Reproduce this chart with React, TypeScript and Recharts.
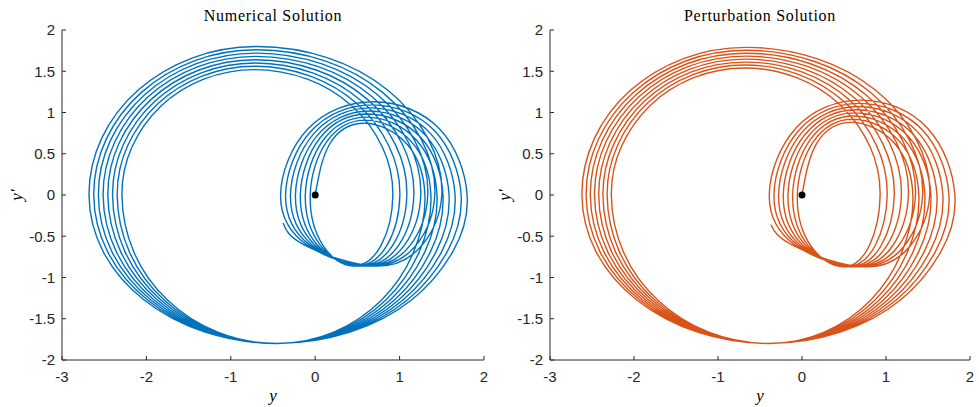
import { LineChart, Line, XAxis, YAxis, ReferenceDot } from 'recharts';

// axis ticks
const xTicks = [-3, -2, -1, 0, 1, 2];
const yTicks = [-2, -1.5, -1, -0.5, 0, 0.5, 1, 1.5, 2];

const numY = [
  0, 0.17, 0.58, 1.089, 1.3, 1.167, 0.787, 0.22, -0.45, -1.155, -1.751, -2.15, -2.29, -2.171, -1.83, -1.321, -0.72, -0.092, 0.439, 0.795, 0.92, 0.782, 0.45, 0.09,
  -0.059, 0.133, 0.596, 1.144, 1.371, 1.233, 0.837, 0.247, -0.45, -1.176, -1.79, -2.202, -2.346, -2.222, -1.868, -1.34, -0.716, -0.058, 0.499, 0.872, 1.003, 0.852, 0.486, 0.06,
  -0.117, 0.096, 0.611, 1.199, 1.443, 1.299, 0.888, 0.275, -0.45, -1.197, -1.829, -2.253, -2.401, -2.273, -1.906, -1.358, -0.711, -0.023, 0.559, 0.949, 1.086, 0.92, 0.521, 0.028,
  -0.176, 0.059, 0.627, 1.254, 1.514, 1.365, 0.939, 0.302, -0.45, -1.219, -1.869, -2.304, -2.457, -2.324, -1.944, -1.377, -0.707, 0.012, 0.619, 1.026, 1.169, 0.99, 0.557, -0.002,
  -0.234, 0.023, 0.643, 1.31, 1.586, 1.431, 0.989, 0.33, -0.45, -1.24, -1.909, -2.356, -2.513, -2.375, -1.983, -1.396, -0.703, 0.045, 0.678, 1.102, 1.251, 1.058, 0.593, -0.033,
  -0.293, -0.014, 0.659, 1.365, 1.657, 1.497, 1.04, 0.357, -0.45, -1.262, -1.948, -2.408, -2.569, -2.427, -2.021, -1.415, -0.699, 0.08, 0.738, 1.179, 1.334, 1.127, 0.629, -0.064,
  -0.351, -0.051, 0.674, 1.42, 1.729, 1.563, 1.091, 0.385, -0.45, -1.283, -1.987, -2.459, -2.624, -2.477, -2.059, -1.433, -0.694, 0.115, 0.798, 1.257, 1.417, 1.196, 0.664, -0.095,
  -0.41, -0.088, 0.69, 1.475, 1.8, 1.629, 1.141, 0.412, -0.45, -1.304, -2.027, -2.511, -2.68, -2.529, -2.097, -1.452, -0.69, 0.149, 0.858, 1.334, 1.5, 1.266, 0.7, -0.126,
  -0.38,
];
const numDY = [
  0, 0.615, 0.87, 0.615, 0, -0.689, -1.273, -1.663, -1.8, -1.663, -1.273, -0.689, 0, 0.582, 1.075, 1.404, 1.52, 1.404, 1.075, 0.582, 0, -0.608, -0.86, -0.608,
  0, 0.641, 0.907, 0.641, 0, -0.689, -1.273, -1.663, -1.8, -1.663, -1.273, -0.689, 0, 0.597, 1.103, 1.441, 1.56, 1.441, 1.103, 0.597, 0, -0.608, -0.86, -0.608,
  0, 0.667, 0.944, 0.667, 0, -0.689, -1.273, -1.663, -1.8, -1.663, -1.273, -0.689, 0, 0.613, 1.131, 1.478, 1.6, 1.478, 1.131, 0.613, 0, -0.608, -0.86, -0.608,
  0, 0.694, 0.981, 0.694, 0, -0.689, -1.273, -1.663, -1.8, -1.663, -1.273, -0.689, 0, 0.628, 1.159, 1.515, 1.64, 1.515, 1.159, 0.628, 0, -0.608, -0.86, -0.608,
  0, 0.72, 1.019, 0.72, 0, -0.689, -1.273, -1.663, -1.8, -1.663, -1.273, -0.689, 0, 0.643, 1.188, 1.552, 1.68, 1.552, 1.188, 0.643, 0, -0.608, -0.86, -0.608,
  0, 0.747, 1.056, 0.747, 0, -0.689, -1.273, -1.663, -1.8, -1.663, -1.273, -0.689, 0, 0.659, 1.216, 1.589, 1.72, 1.589, 1.216, 0.659, 0, -0.608, -0.86, -0.608,
  0, 0.773, 1.093, 0.773, 0, -0.689, -1.273, -1.663, -1.8, -1.663, -1.273, -0.689, 0, 0.674, 1.244, 1.626, 1.76, 1.626, 1.244, 0.674, 0, -0.608, -0.86, -0.608,
  0, 0.799, 1.13, 0.799, 0, -0.689, -1.273, -1.663, -1.8, -1.663, -1.273, -0.689, 0, 0.689, 1.273, 1.663, 1.8, 1.663, 1.273, 0.689, 0, -0.608, -0.86, -0.608,
  -0.34,
];

// perturbation solution
const pertY = [
  0, 0.173, 0.59, 1.106, 1.32, 1.19, 0.819, 0.265, -0.39, -1.11, -1.719, -2.127, -2.27, -2.149, -1.804, -1.289, -0.68, -0.063, 0.458, 0.808, 0.93, 0.801, 0.49, 0.104,
  -0.056, 0.138, 0.606, 1.161, 1.391, 1.256, 0.869, 0.292, -0.39, -1.129, -1.755, -2.173, -2.32, -2.195, -1.839, -1.306, -0.677, -0.029, 0.519, 0.885, 1.014, 0.87, 0.524, 0.075,
  -0.111, 0.103, 0.621, 1.216, 1.463, 1.322, 0.92, 0.32, -0.39, -1.148, -1.79, -2.22, -2.37, -2.241, -1.873, -1.324, -0.674, 0.005, 0.58, 0.964, 1.099, 0.941, 0.559, 0.046,
  -0.167, 0.069, 0.637, 1.271, 1.534, 1.388, 0.97, 0.347, -0.39, -1.167, -1.825, -2.266, -2.42, -2.287, -1.908, -1.341, -0.671, 0.039, 0.64, 1.042, 1.183, 1.01, 0.593, 0.016,
  -0.223, 0.034, 0.653, 1.327, 1.606, 1.454, 1.021, 0.374, -0.39, -1.187, -1.861, -2.312, -2.47, -2.333, -1.942, -1.359, -0.669, 0.072, 0.7, 1.12, 1.267, 1.079, 0.627, -0.014,
  -0.279, -0.001, 0.669, 1.382, 1.677, 1.52, 1.071, 0.402, -0.39, -1.206, -1.896, -2.358, -2.52, -2.379, -1.977, -1.376, -0.666, 0.107, 0.76, 1.198, 1.351, 1.149, 0.661, -0.042,
  -0.334, -0.036, 0.684, 1.437, 1.749, 1.586, 1.122, 0.429, -0.39, -1.225, -1.931, -2.404, -2.57, -2.425, -2.011, -1.393, -0.663, 0.141, 0.821, 1.276, 1.436, 1.219, 0.696, -0.072,
  -0.39, -0.071, 0.7, 1.492, 1.82, 1.652, 1.172, 0.456, -0.39, -1.244, -1.967, -2.451, -2.62, -2.471, -2.046, -1.411, -0.66, 0.175, 0.881, 1.354, 1.52, 1.289, 0.73, -0.101,
  -0.37,
];
const pertDY = [
  0, 0.622, 0.88, 0.622, 0, -0.689, -1.273, -1.663, -1.8, -1.663, -1.273, -0.689, 0, 0.59, 1.089, 1.423, 1.54, 1.423, 1.089, 0.59, 0, -0.615, -0.87, -0.615,
  0, 0.65, 0.919, 0.65, 0, -0.689, -1.273, -1.663, -1.8, -1.663, -1.273, -0.689, 0, 0.604, 1.114, 1.456, 1.576, 1.456, 1.114, 0.604, 0, -0.615, -0.87, -0.615,
  0, 0.677, 0.957, 0.677, 0, -0.689, -1.273, -1.663, -1.8, -1.663, -1.273, -0.689, 0, 0.617, 1.139, 1.489, 1.611, 1.489, 1.139, 0.617, 0, -0.615, -0.87, -0.615,
  0, 0.704, 0.996, 0.704, 0, -0.689, -1.273, -1.663, -1.8, -1.663, -1.273, -0.689, 0, 0.631, 1.164, 1.522, 1.647, 1.522, 1.164, 0.631, 0, -0.615, -0.87, -0.615,
  0, 0.731, 1.034, 0.731, 0, -0.689, -1.273, -1.663, -1.8, -1.663, -1.273, -0.689, 0, 0.645, 1.19, 1.555, 1.683, 1.555, 1.19, 0.645, 0, -0.615, -0.87, -0.615,
  0, 0.759, 1.073, 0.759, 0, -0.689, -1.273, -1.663, -1.8, -1.663, -1.273, -0.689, 0, 0.658, 1.215, 1.588, 1.719, 1.588, 1.215, 0.658, 0, -0.615, -0.87, -0.615,
  0, 0.785, 1.111, 0.785, 0, -0.689, -1.273, -1.663, -1.8, -1.663, -1.273, -0.689, 0, 0.672, 1.24, 1.621, 1.754, 1.621, 1.24, 0.672, 0, -0.615, -0.87, -0.615,
  0, 0.813, 1.15, 0.813, 0, -0.689, -1.273, -1.663, -1.8, -1.663, -1.273, -0.689, 0, 0.686, 1.266, 1.654, 1.79, 1.654, 1.266, 0.686, 0, -0.615, -0.87, -0.615,
  -0.36,
];

// initial condition
const start = { y: 0, dy: 0 };

const axisColor = '#262626';
const tickFont = { fill: axisColor, fontSize: 15, fontFamily: '"Liberation Sans", Arial, sans-serif' };
const serif = '"Liberation Serif", "Times New Roman", serif';

const toRows = (ys: number[], dys: number[]) => ys.map((v, i) => ({ y: v, dy: dys[i] }));

interface PhasePlotProps {
  title: string;
  ys: number[];
  dys: number[];
  color: string;
  left: number;
  width: number;
  right: number;
}

function PhasePlot({ title, ys, dys, color, left, width, right }: PhasePlotProps) {
  const plotW = width - 62 - right;
  const cx = left + 62 + plotW / 2;
  return (
    <>
      <div style={{ position: 'absolute', left, top: 0 }}>
        <LineChart
          width={width}
          height={407}
          data={toRows(ys, dys)}
          margin={{ top: 30, right, bottom: 0, left: 0 }}
        >
          <XAxis
            type="number"
            dataKey="y"
            domain={[-3, 2]}
            ticks={xTicks}
            interval={0}
            allowDataOverflow
            height={47}
            tickSize={-4}
            tickMargin={15}
            axisLine={{ stroke: axisColor }}
            tickLine={{ stroke: axisColor }}
            tick={tickFont}
          />
          <YAxis
            type="number"
            dataKey="dy"
            domain={[-2, 2]}
            ticks={yTicks}
            interval={0}
            allowDataOverflow
            width={62}
            tickSize={-4}
            tickMargin={11}
            axisLine={{ stroke: axisColor }}
            tickLine={{ stroke: axisColor }}
            tick={tickFont}
          />
          <Line
            type="natural"
            dataKey="dy"
            stroke={color}
            strokeWidth={1.4}
            dot={false}
            activeDot={false}
            isAnimationActive={false}
          />
          <ReferenceDot x={start.y} y={start.dy} r={3.5} fill="#000" stroke="none" />
        </LineChart>
      </div>
      <div
        style={{
          position: 'absolute',
          left: cx,
          top: 16,
          transform: 'translate(-50%, -50%)',
          fontFamily: serif,
          fontSize: 16,
          letterSpacing: 0.7,
          color: '#000',
          whiteSpace: 'nowrap',
          lineHeight: 1,
        }}
      >
        {title}
      </div>
      <div
        style={{
          position: 'absolute',
          left: cx,
          top: 395,
          transform: 'translate(-50%, -50%)',
          fontFamily: serif,
          fontStyle: 'italic',
          fontSize: 17,
          color: '#000',
          lineHeight: 1,
        }}
      >
        y
      </div>
      <div
        style={{
          position: 'absolute',
          left: left + 16,
          top: 195,
          transform: 'translate(-50%, -50%) rotate(-90deg)',
          fontFamily: serif,
          fontStyle: 'italic',
          fontSize: 17,
          color: '#000',
          lineHeight: 1,
          whiteSpace: 'nowrap',
        }}
      >
        y′
      </div>
    </>
  );
}

export default function App() {
  return (
    <div
      style={{
        position: 'absolute',
        left: 0,
        top: 0,
        width: 979,
        height: 407,
        background: '#fff',
        overflow: 'hidden',
      }}
    >
      <PhasePlot title="Numerical Solution" ys={numY} dys={numDY} color="#0072BD" left={0} width={500} right={16} />
      <PhasePlot title="Perturbation Solution" ys={pertY} dys={pertDY} color="#D95319" left={488} width={491} right={9} />
    </div>
  );
}
